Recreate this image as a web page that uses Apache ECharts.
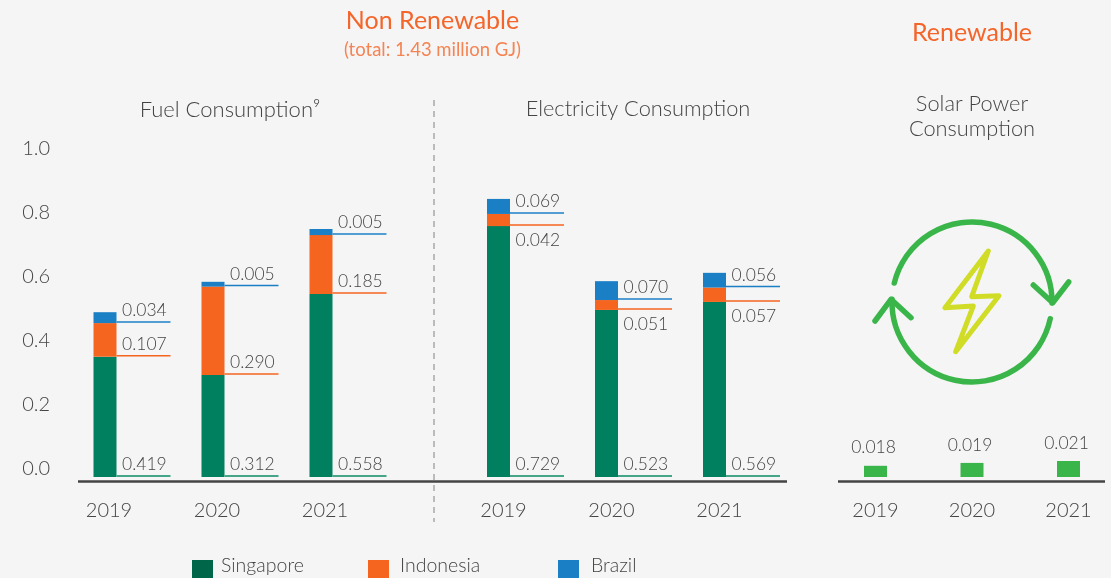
<!DOCTYPE html>
<html>
<head>
<meta charset="utf-8">
<style>html,body{margin:0;padding:0;background:#f5f5f5}#main{width:1111px;height:578px}</style>
<script src="https://cdn.jsdelivr.net/npm/echarts@6/dist/echarts.min.js"></script>
</head>
<body>
<div id="main"></div>
<script>
var years = ['2019', '2020', '2021'];

// bar heights as drawn in the picture, the printed numbers do not quite follow the axis
var fuelSingapore = [0.376, 0.319, 0.572];
var fuelIndonesia = [0.105, 0.276, 0.184];
var fuelBrazil = [0.034, 0.015, 0.019];
var elecSingapore = [0.784, 0.522, 0.547];
var elecIndonesia = [0.038, 0.031, 0.045];
var elecBrazil = [0.047, 0.059, 0.046];
var solar = [0.035, 0.044, 0.050];

// printed labels
var fuelSingaporeText = ['0.419', '0.312', '0.558'];
var fuelIndonesiaText = ['0.107', '0.290', '0.185'];
var fuelBrazilText = ['0.034', '0.005', '0.005'];
var elecSingaporeText = ['0.729', '0.523', '0.569'];
var elecIndonesiaText = ['0.042', '0.051', '0.057'];
var elecBrazilText = ['0.069', '0.070', '0.056'];
var solarText = ['0.018', '0.019', '0.021'];

var GREEN = '#00805e', ORANGE = '#f56520', BLUE = '#1b7fc6', SOLAR = '#3ab54a';
var TEXT = '#444444', FONT = 'Lato';

var myChart = echarts.init(document.getElementById('main'));

function bar(name, grid, values, color) {
    return {
        name: name, type: 'bar', stack: 'g' + grid, xAxisIndex: grid, yAxisIndex: grid,
        barWidth: 23, data: values, itemStyle: {color: color}, silent: true
    };
}

// coloured line right of the bar with its printed number
function leader(grid, bases, texts, color, width, below) {
    return {
        type: 'custom', xAxisIndex: grid, yAxisIndex: grid, silent: true, z: 3,
        encode: {x: 0, y: 1},
        data: bases.map(function (b, i) { return [i, b]; }),
        renderItem: function (params, api) {
            var c = api.coord([api.value(0), api.value(1)]);
            var x0 = c[0] + 11.5, y = c[1] - 1;
            return {
                type: 'group',
                children: [{
                    type: 'line',
                    shape: {x1: x0, y1: y, x2: x0 + 54, y2: y},
                    style: {stroke: color, lineWidth: width}
                }, {
                    type: 'text',
                    style: {
                        text: texts[params.dataIndex], x: x0 + 5.5, y: y + (below ? 15 : -11.5),
                        fill: TEXT, font: '300 17.5px ' + FONT, align: 'left', verticalAlign: 'middle'
                    }
                }]
            };
        }
    };
}

function addUp(a, b) {
    return a.map(function (v, i) { return v + b[i]; });
}
var zeros = [0, 0, 0];

function titleItem(text, cx, top, size, color, weight) {
    return {
        text: text, left: cx, top: top, textAlign: 'center', padding: 0,
        textStyle: {color: color, fontSize: size, fontWeight: weight, fontFamily: FONT, lineHeight: 25}
    };
}

function legendItem(name, color, left, pad) {
    return {
        left: left, top: 556, padding: 0, itemWidth: 21, itemHeight: 21, itemGap: 0, icon: 'rect', selectedMode: false,
        data: [{name: name, itemStyle: {color: color}}],
        formatter: '{a|' + name + '}',
        textStyle: {
            color: TEXT, rich: {a: {color: TEXT, fontSize: 19.5, fontWeight: 300, fontFamily: FONT, padding: [0, 0, 9, pad]}}
        }
    };
}

function xAxisItem(grid, pad, edgeToEdge) {
    return {
        type: 'category', gridIndex: grid, data: years, boundaryGap: !edgeToEdge,
        axisLine: {show: false}, axisTick: {show: false},
        axisLabel: {color: TEXT, fontSize: 20, fontWeight: 300, fontFamily: FONT, margin: 24, padding: [0, 0, 0, pad]}
    };
}

function yAxisItem(grid, visible) {
    return {
        type: 'value', gridIndex: grid, min: 0, max: 1, interval: 0.2, show: visible, splitLine: {show: false},
        axisLine: {show: false}, axisTick: {show: false},
        axisLabel: {
            color: TEXT, fontSize: 20, fontWeight: 300, fontFamily: FONT, margin: 1,
            verticalAlign: 'bottom', lineHeight: 16,
            formatter: function (v) { return v.toFixed(1); }
        }
    };
}

var option = {
    backgroundColor: '#f5f5f5',
    animation: false,
    title: [
        titleItem('Non Renewable', 432.5, 8, 25, '#f4652a', 400),
        titleItem('(total: 1.43 million GJ)', 432.5, 38, 18.5, '#f58453', 400),
        titleItem('Renewable', 972, 20, 25, '#f4652a', 400),
        titleItem('Fuel Consumption\u2079', 230, 97, 22, TEXT, 300),
        titleItem('Electricity Consumption', 638, 96, 21.8, TEXT, 300),
        titleItem('Solar Power\nConsumption', 972, 91, 21.8, TEXT, 300)
    ],
    legend: [
        legendItem('Singapore', '#00664a', 192, 3),
        legendItem('Indonesia', ORANGE, 368, 6),
        legendItem('Brazil', BLUE, 558, 7)
    ],
    grid: [
        {left: 51, top: 157, width: 324, height: 320},
        {left: 444.5, top: 157, width: 324, height: 320},
        {left: 875.5, top: 157, width: 193, height: 320}
    ],
    xAxis: [xAxisItem(0, 8), xAxisItem(1, 10), xAxisItem(2, 0, true)],
    yAxis: [yAxisItem(0, true), yAxisItem(1, false), yAxisItem(2, false)],
    series: [
        bar('Singapore', 0, fuelSingapore, GREEN),
        bar('Indonesia', 0, fuelIndonesia, ORANGE),
        bar('Brazil', 0, fuelBrazil, BLUE),
        bar('Singapore', 1, elecSingapore, GREEN),
        bar('Indonesia', 1, elecIndonesia, ORANGE),
        bar('Brazil', 1, elecBrazil, BLUE),
        {
            name: 'Solar Power', type: 'bar', xAxisIndex: 2, yAxisIndex: 2, barWidth: 23, silent: true,
            data: solar, itemStyle: {color: SOLAR},
            label: {
                show: true, position: 'top', distance: 9, offset: [-2, 0], color: TEXT,
                fontSize: 17.5, fontWeight: 300, fontFamily: FONT,
                formatter: function (p) { return solarText[p.dataIndex]; }
            }
        },
        leader(0, zeros, fuelSingaporeText, '#45a588', 2, false),
        leader(0, fuelSingapore, fuelIndonesiaText, ORANGE, 1.5, false),
        leader(0, addUp(fuelSingapore, fuelIndonesia), fuelBrazilText, BLUE, 1.5, false),
        leader(1, zeros, elecSingaporeText, '#45a588', 2, false),
        leader(1, elecSingapore, elecIndonesiaText, ORANGE, 1.5, true),
        leader(1, addUp(elecSingapore, elecIndonesia), elecBrazilText, BLUE, 1.5, false)
    ],
    graphic: [
        // baselines
        {type: 'line', shape: {x1: 78, y1: 481.5, x2: 787, y2: 481.5}, style: {stroke: '#444444', lineWidth: 2.5}},
        {type: 'line', shape: {x1: 838, y1: 481.5, x2: 1105, y2: 481.5}, style: {stroke: '#444444', lineWidth: 2.5}},
        // divider
        {type: 'line', shape: {x1: 434, y1: 100, x2: 434, y2: 522}, style: {stroke: '#a8a8a8', lineWidth: 1.5, lineDash: [6, 5]}},
        // solar icon
        {type: 'arc', shape: {cx: 972, cy: 302, r: 80, startAngle: 193.7 * Math.PI / 180, endAngle: 360.7 * Math.PI / 180, clockwise: true},
            style: {stroke: SOLAR, lineWidth: 5.5, fill: null, lineCap: 'round'}},
        {type: 'arc', shape: {cx: 972, cy: 302, r: 80, startAngle: 12.1 * Math.PI / 180, endAngle: 182 * Math.PI / 180, clockwise: true},
            style: {stroke: SOLAR, lineWidth: 5.5, fill: null, lineCap: 'round'}},
        {type: 'polyline', shape: {points: [[1033.3, 285], [1052.7, 302.7], [1068.7, 282]]},
            style: {stroke: SOLAR, lineWidth: 5.5, fill: null, lineCap: 'round', lineJoin: 'round'}},
        {type: 'polyline', shape: {points: [[875, 321], [891, 299.3], [911, 317.7]]},
            style: {stroke: SOLAR, lineWidth: 5.5, fill: null, lineCap: 'round', lineJoin: 'round'}},
        {type: 'polygon', shape: {points: [[988.3, 251], [945, 307.7], [973.3, 306], [955.7, 351.7], [999, 295.7], [971.7, 296.7]]},
            style: {stroke: '#d0dc26', lineWidth: 5, fill: null, lineJoin: 'round'}}
    ]
};
myChart.setOption(option);
window.onresize = function () {
    myChart.resize();
};
</script>
</body>
</html>
